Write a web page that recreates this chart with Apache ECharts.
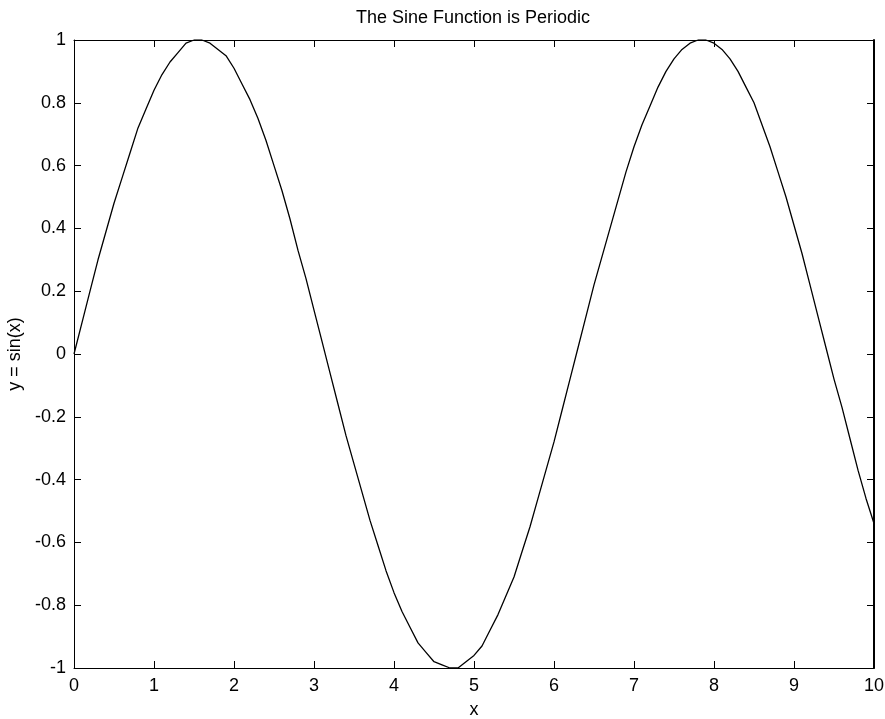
<!DOCTYPE html>
<html>
<head>
<meta charset="utf-8">
<script src="https://cdn.jsdelivr.net/npm/echarts@6/dist/echarts.min.js"></script>
<style>
  html, body { margin: 0; padding: 0; background: #fff; }
  #chart { width: 885px; height: 719px; }
</style>
</head>
<body>
<div id="chart"></div>
<script>
// Sample positions along x and the sampled curve values
const xValues = [
  0.0, 0.1, 0.2, 0.3, 0.4, 0.5, 0.6, 0.7, 0.8, 0.9,
  1.0, 1.1, 1.2, 1.3, 1.4, 1.5, 1.6, 1.7, 1.8, 1.9,
  2.0, 2.1, 2.2, 2.3, 2.4, 2.5, 2.6, 2.7, 2.8, 2.9,
  3.0, 3.1, 3.2, 3.3, 3.4, 3.5, 3.6, 3.7, 3.8, 3.9,
  4.0, 4.1, 4.2, 4.3, 4.4, 4.5, 4.6, 4.7, 4.8, 4.9,
  5.0, 5.1, 5.2, 5.3, 5.4, 5.5, 5.6, 5.7, 5.8, 5.9,
  6.0, 6.1, 6.2, 6.3, 6.4, 6.5, 6.6, 6.7, 6.8, 6.9,
  7.0, 7.1, 7.2, 7.3, 7.4, 7.5, 7.6, 7.7, 7.8, 7.9,
  8.0, 8.1, 8.2, 8.3, 8.4, 8.5, 8.6, 8.7, 8.8, 8.9,
  9.0, 9.1, 9.2, 9.3, 9.4, 9.5, 9.6, 9.7, 9.8, 9.9,
  10.0
];
const yValues = [
  0.00, 0.10, 0.20, 0.30, 0.39, 0.48, 0.56, 0.64, 0.72, 0.78,
  0.84, 0.89, 0.93, 0.96, 0.99, 1.00, 1.00, 0.99, 0.97, 0.95,
  0.91, 0.86, 0.81, 0.75, 0.68, 0.60, 0.52, 0.43, 0.33, 0.24,
  0.14, 0.04, -0.06, -0.16, -0.26, -0.35, -0.44, -0.53, -0.61, -0.69,
  -0.76, -0.82, -0.87, -0.92, -0.95, -0.98, -0.99, -1.00, -1.00, -0.98,
  -0.96, -0.93, -0.88, -0.83, -0.77, -0.71, -0.63, -0.55, -0.46, -0.37,
  -0.28, -0.18, -0.08, 0.02, 0.12, 0.22, 0.31, 0.40, 0.49, 0.58,
  0.66, 0.73, 0.79, 0.85, 0.90, 0.94, 0.97, 0.99, 1.00, 1.00,
  0.99, 0.97, 0.94, 0.90, 0.85, 0.80, 0.73, 0.66, 0.58, 0.50,
  0.41, 0.32, 0.22, 0.12, 0.02, -0.08, -0.17, -0.27, -0.37, -0.46,
  -0.54
];

const titleText = 'The Sine Function is Periodic';
const xLabelText = 'x';
const yLabelText = 'y = sin(x)';

const FONT = '"Liberation Sans", Arial, sans-serif';
const FONT_SIZE = 18;
const points = xValues.map((x, i) => [x, yValues[i]]);

const fmt = v => {
  const r = Math.round(v * 10) / 10;
  return String(r === 0 ? 0 : r);
};

const chart = echarts.init(document.getElementById('chart'), null, { renderer: 'canvas' });

const tickStyle = { show: true, inside: true, length: 7, lineStyle: { color: '#000', width: 1 } };

// Top and right edges of the box: ticks only, no labels
const boxSide = (extra) => Object.assign({
  type: 'value',
  axisLine: { show: true, onZero: false, lineStyle: { color: '#000', width: 1 } },
  axisTick: tickStyle,
  axisLabel: { show: false },
  splitLine: { show: false }
}, extra);

chart.setOption({
  animation: false,
  backgroundColor: '#fff',
  title: {
    text: titleText,
    left: 473,
    textAlign: 'center',
    top: 9,
    padding: 0,
    textStyle: { fontFamily: FONT, fontSize: FONT_SIZE, fontWeight: 'normal', color: '#000' }
  },
  grid: {
    left: 74, right: 11, top: 40, bottom: 51,
    show: false,
    containLabel: false,
    outerBoundsMode: 'none'
  },
  xAxis: [
    {
      type: 'value', min: 0, max: 10, interval: 1, position: 'bottom',
      name: xLabelText, nameLocation: 'middle', nameGap: 33,
      nameTextStyle: { fontFamily: FONT, fontSize: FONT_SIZE, color: '#000' },
      axisLine: { show: true, onZero: false, lineStyle: { color: '#000', width: 1 } },
      axisTick: tickStyle,
      axisLabel: { fontFamily: FONT, fontSize: FONT_SIZE, color: '#000', margin: 9, formatter: fmt },
      splitLine: { show: false }
    },
    boxSide({ min: 0, max: 10, interval: 1, position: 'top' })
  ],
  yAxis: [
    {
      type: 'value', min: -1, max: 1, interval: 0.2, position: 'left',
      name: yLabelText, nameLocation: 'middle', nameGap: 41, nameRotate: 90,
      nameTextStyle: { fontFamily: FONT, fontSize: FONT_SIZE, color: '#000' },
      axisLine: { show: true, onZero: false, lineStyle: { color: '#000', width: 1 } },
      axisTick: tickStyle,
      axisLabel: { fontFamily: FONT, fontSize: FONT_SIZE, color: '#000', margin: 8, formatter: fmt },
      splitLine: { show: false }
    },
    boxSide({
      min: -1, max: 1, interval: 0.2, position: 'right',
      axisLine: { show: true, onZero: false, lineStyle: { color: '#000', width: 2 } }
    })
  ],
  series: [
    {
      type: 'line',
      xAxisIndex: 0,
      yAxisIndex: 0,
      data: points,
      showSymbol: false,
      smooth: false,
      lineStyle: { color: '#000', width: 1.3 },
      clip: true
    }
  ]
});
</script>
</body>
</html>
